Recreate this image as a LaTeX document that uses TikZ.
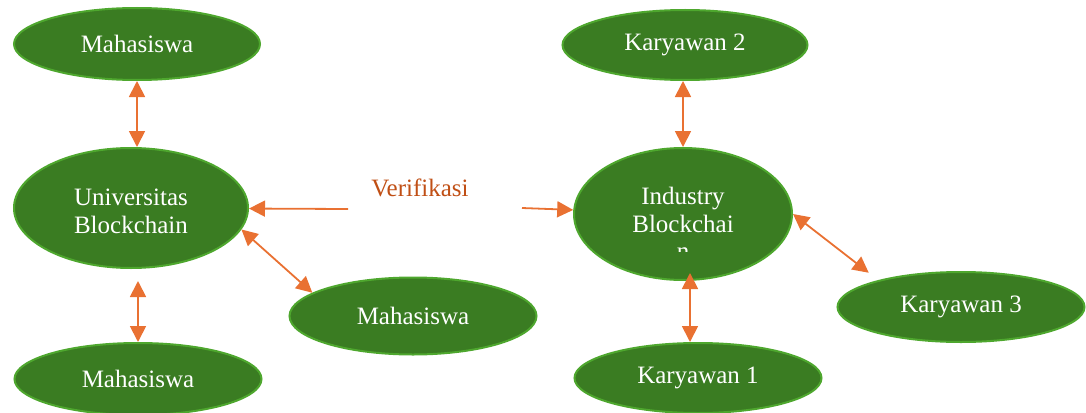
\documentclass[tikz,border=0pt]{standalone}
\usepackage{fontspec}
\setmainfont{Liberation Serif}
\usetikzlibrary{arrows.meta,shapes.geometric}

\definecolor{nodegreen}{HTML}{3A7C22}
\definecolor{rimgreen}{HTML}{4EA72E}
\definecolor{linkorange}{HTML}{E97132}
\definecolor{labelorange}{HTML}{C04F15}

\begin{document}
\begin{tikzpicture}[
            x=1pt, y=-1pt,
            every node/.style={ellipse, draw=rimgreen, line width=2pt, fill=nodegreen,
                text=white, inner sep=0pt, align=center,
                font=\fontsize{25}{28}\selectfont},
            plain/.style={rectangle, draw=none, fill=none},
            link/.style={draw=linkorange, line width=1.8pt,
                {Triangle[length=16pt,width=16pt]}-{Triangle[length=16pt,width=16pt]}},
            oneway/.style={draw=linkorange, line width=1.8pt,
                -{Triangle[length=16pt,width=16pt]}}]

            \useasboundingbox (0,0) rectangle (1086,412);

            % left side
            \node[minimum width=246pt, minimum height=72pt] (mhs1) at (137,44) {Mahasiswa};
            \node[minimum width=234pt, minimum height=120pt, text height=52pt] (univ) at (131,208) {Universitas\\Blockchain};
            \node[minimum width=247pt, minimum height=77pt] (mhs2) at (413,316) {Mahasiswa};
            \node[minimum width=247pt, minimum height=72pt] (mhs3) at (138,379) {Mahasiswa};

            % right side
            \node[minimum width=245pt, minimum height=70pt] (kar2) at (685,45) {Karyawan 2};
            \node[minimum width=218pt, minimum height=132pt, text depth=9pt] (ind) at (683,214) {Industry\\Blockchai};
            \node[minimum width=247pt, minimum height=70pt] (kar3) at (961,307) {Karyawan 3};
            \node[minimum width=247pt, minimum height=70pt] (kar1) at (698,378) {Karyawan 1};

            % last letter of the label, cut off by its box
            \begin{scope}
                \clip (600,240) rectangle (760,251);
                \node[plain, anchor=base] (indtail) at (683,259) {n};
            \end{scope}

            \node[plain, text=labelorange] (verif) at (420,188) {Verifikasi};
            \coordinate (vl) at (348,209);
            \coordinate (vr) at (522,208);

            \draw[link] (mhs1.south) -- (mhs1.south |- univ.north);
            \draw[link, shorten >=12pt] (mhs3.north) -- (mhs3.north |- univ.south);
            \draw[link] (univ.-11) -- (mhs2.167);

            \draw[oneway] (vl) -- (univ);
            \draw[oneway] (vr) -- (ind);

            \draw[link] (ind.north) -- (ind.north |- kar2.south);
            \draw[link, shorten >=-8pt] ([xshift=-8pt]kar1.north) -- ([xshift=-8pt]kar1.north |- ind.south);
            \draw[link, shorten >=12pt] (ind.east) -- (kar3.162);
        \end{tikzpicture}
\end{document}
